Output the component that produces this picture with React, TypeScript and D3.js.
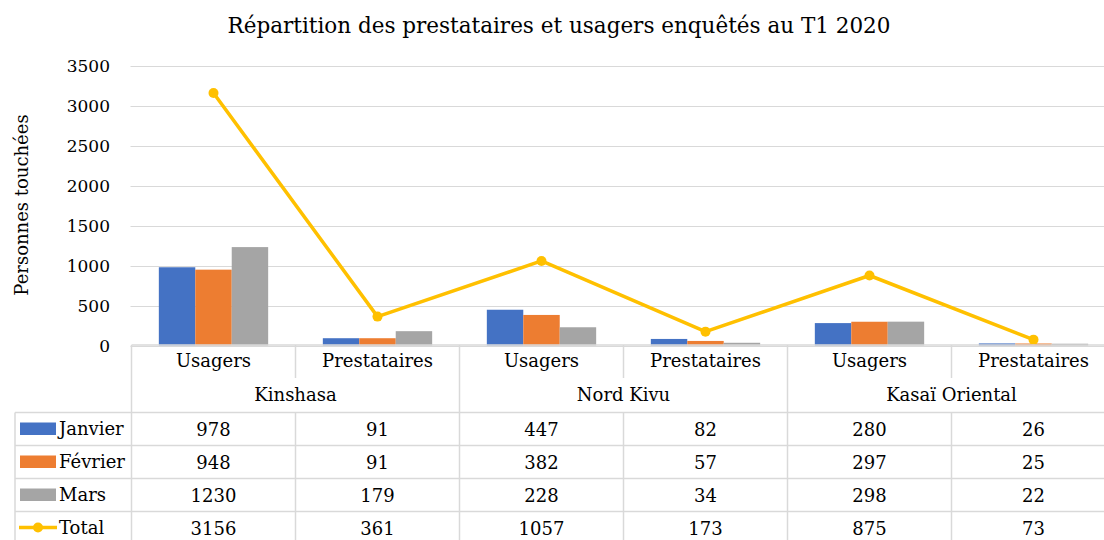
import React from "react";
import * as d3 from "d3";

const title = "Répartition des prestataires et usagers enquêtés au T1 2020";
const yTitle = "Personnes touchées";
const groups = ["Kinshasa", "Nord Kivu", "Kasaï Oriental"];
const subCats = ["Usagers", "Prestataires"];
const seriesNames = ["Janvier", "Février", "Mars"];
const seriesColors = ["#4472C4", "#ED7D31", "#A5A5A5"];
const janvier = [978, 91, 447, 82, 280, 26];
const fevrier = [948, 91, 382, 57, 297, 25];
const mars = [1230, 179, 228, 34, 298, 22];
const total = [3156, 361, 1057, 173, 875, 73];
const totalName = "Total";
const totalColor = "#FFC000";
const yTicks = [0, 500, 1000, 1500, 2000, 2500, 3000, 3500];

const W = 1104;
const H = 540;
const FONT = "'DejaVu Serif', serif";

export default function App() {
  const seriesVals = [janvier, fevrier, mars];
  const plotLeft = 131.5;
  const catW = 164;
  const cats = groups.flatMap((g, gi) => subCats.map((s, si) => `${gi}-${si}`));
  const x0 = d3.scaleBand<string>().domain(cats).range([plotLeft, plotLeft + catW * cats.length]);
  const x1 = d3.scaleBand<string>().domain(seriesNames).range([0, x0.bandwidth()]).paddingOuter(0.75).paddingInner(0);
  const y = d3.scaleLinear().domain([0, 3500]).range([345.5, 65.5]);
  const xr = plotLeft + catW * cats.length;

  const line = d3
    .line<number>()
    .x((_, i) => (x0(cats[i]) as number) + x0.bandwidth() / 2)
    .y((d) => y(d));

  const headTop = 345;
  const headMid = 378;
  const tableTop = 412.5;
  const rowH = 33;
  const tableLeft = 15;
  const rows = [...seriesVals, total];
  const rowNames = [...seriesNames, totalName];
  const tableBottom = tableTop + rowH * rows.length;
  const gridC = "#D9D9D9";

  return (
    <svg width={W} height={H} style={{ position: "absolute", left: 0, top: 0, background: "#fff" }}>
      <rect x={0} y={0} width={W} height={H} fill="#fff" />
      <text x={559} y={33} textAnchor="middle" fontFamily={FONT} fontSize={21.5} fill="#000">
        {title}
      </text>
      {/* gridlines */}
      {yTicks.map((t) => (
        <line key={t} x1={plotLeft - 1} x2={xr} y1={Math.round(y(t)) + 0.5} y2={Math.round(y(t)) + 0.5} stroke={gridC} strokeWidth={1} />
      ))}
      {yTicks.map((t) => (
        <text key={"l" + t} x={110} y={y(t) + 6} textAnchor="end" fontFamily={FONT} fontSize={17} fill="#000">
          {t}
        </text>
      ))}
      <text
        transform={`translate(28,205) rotate(-90)`}
        textAnchor="middle"
        fontFamily={FONT}
        fontSize={18}
        fill="#000"
      >
        {yTitle}
      </text>
      {/* bars */}
      {seriesVals.map((vals, si) =>
        vals.map((v, ci) => (
          <rect
            key={`${si}-${ci}`}
            x={(x0(cats[ci]) as number) + (x1(seriesNames[si]) as number)}
            y={y(v)}
            width={x1.bandwidth()}
            height={y(0) - y(v)}
            fill={seriesColors[si]}
          />
        ))
      )}
      {/* total line */}
      <path d={line(total) || ""} fill="none" stroke={totalColor} strokeWidth={3.5} strokeLinejoin="round" />
      {total.map((v, i) => (
        <circle key={i} cx={(x0(cats[i]) as number) + x0.bandwidth() / 2} cy={y(v)} r={5} fill={totalColor} />
      ))}
      {/* table lines */}
      <g stroke={gridC} strokeWidth={1.5}>
        <line x1={plotLeft} x2={xr} y1={headTop} y2={headTop} />
        {rows.map((_, ri) => (
          <line key={ri} x1={tableLeft} x2={xr} y1={tableTop + ri * rowH} y2={tableTop + ri * rowH} />
        ))}
        <line x1={tableLeft} x2={tableLeft} y1={tableTop} y2={tableBottom} />
        {cats.map((c, ci) => {
          const xx = x0(c) as number;
          const isGroup = ci % subCats.length === 0;
          return <line key={c} x1={xx} x2={xx} y1={isGroup ? headTop : tableTop} y2={tableBottom} />;
        })}
        {cats.map((c, ci) =>
          ci % subCats.length !== 0 ? (
            <line key={"h" + c} x1={x0(c) as number} x2={x0(c) as number} y1={headTop} y2={headMid} />
          ) : null
        )}
        <line x1={xr} x2={xr} y1={headTop} y2={tableBottom} />
      </g>
      {/* subcategory labels */}
      {cats.map((c, ci) => (
        <text
          key={"s" + c}
          x={(x0(c) as number) + x0.bandwidth() / 2}
          y={367}
          textAnchor="middle"
          fontFamily={FONT}
          fontSize={18}
          fill="#000"
        >
          {subCats[ci % subCats.length]}
        </text>
      ))}
      {groups.map((g, gi) => (
        <text
          key={g}
          x={(x0(cats[gi * subCats.length]) as number) + (x0.bandwidth() * subCats.length) / 2}
          y={401}
          textAnchor="middle"
          fontFamily={FONT}
          fontSize={18}
          fill="#000"
        >
          {g}
        </text>
      ))}
      {/* table rows */}
      {rows.map((vals, ri) => {
        const ty = tableTop + ri * rowH;
        return (
          <g key={"r" + ri}>
            {ri < seriesNames.length ? (
              <rect x={20} y={ty + 10} width={36} height={12.5} fill={seriesColors[ri]} />
            ) : (
              <g>
                <line x1={19} x2={57} y1={ty + 16} y2={ty + 16} stroke={totalColor} strokeWidth={3.5} />
                <circle cx={38} cy={ty + 16} r={5} fill={totalColor} />
              </g>
            )}
            <text x={59} y={ty + 22.5} fontFamily={FONT} fontSize={18} fill="#000">
              {rowNames[ri]}
            </text>
            {vals.map((v, ci) => (
              <text
                key={ci}
                x={(x0(cats[ci]) as number) + x0.bandwidth() / 2}
                y={ty + 23}
                textAnchor="middle"
                fontFamily={FONT}
                fontSize={18}
                fill="#000"
              >
                {v}
              </text>
            ))}
          </g>
        );
      })}
    </svg>
  );
}
